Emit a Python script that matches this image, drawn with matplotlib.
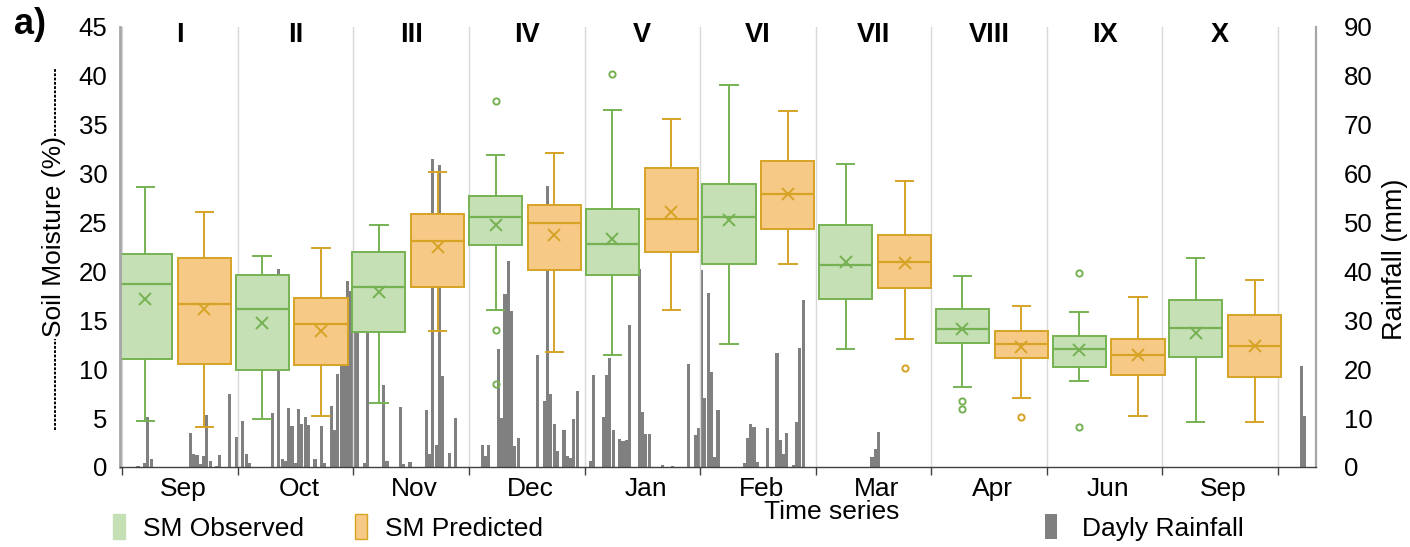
import numpy as np
import matplotlib.pyplot as plt
from matplotlib.patches import Patch

plt.rcParams['font.family'] = ['Liberation Sans', 'DejaVu Sans']

# section labels
sections = ['I', 'II', 'III', 'IV', 'V', 'VI', 'VII', 'VIII', 'IX', 'X']
months = ['Sep', 'Oct', 'Nov', 'Dec', 'Jan', 'Feb', 'Mar', 'Apr', 'Jun', 'Sep']

# soil moisture observed (%) - box statistics
obs_lo = [4.7, 4.9, 6.5, 16.1, 11.5, 12.6, 12.1, 8.2, 8.8, 4.6]
obs_q1 = [11.0, 9.9, 13.8, 22.7, 19.6, 20.8, 17.2, 12.7, 10.2, 11.2]
obs_med = [18.7, 16.2, 18.4, 25.6, 22.8, 25.6, 20.7, 14.1, 12.1, 14.2]
obs_q3 = [21.8, 19.6, 22.0, 27.7, 26.4, 28.9, 24.7, 16.2, 13.4, 17.1]
obs_hi = [28.6, 21.6, 24.7, 31.9, 36.5, 39.1, 31.0, 19.5, 15.9, 21.4]
obs_mean = [17.2, 14.7, 17.9, 24.7, 23.3, 25.3, 21.0, 14.1, 12.0, 13.7]
obs_out = [[], [], [], [37.4, 14.0, 8.5], [40.2], [], [], [6.7, 5.9], [19.8, 4.1], []]

# soil moisture predicted (%)
pred_lo = [4.1, 5.2, 13.9, 11.8, 16.1, 20.8, 13.1, 7.1, 5.2, 4.6]
pred_q1 = [10.5, 10.4, 18.4, 20.1, 22.0, 24.3, 18.3, 11.1, 9.4, 9.2]
pred_med = [16.7, 14.6, 23.1, 25.0, 25.4, 27.9, 21.0, 12.6, 11.5, 12.4]
pred_q3 = [21.4, 17.3, 25.9, 26.8, 30.6, 31.3, 23.7, 13.9, 13.1, 15.5]
pred_hi = [26.1, 22.4, 30.2, 32.1, 35.6, 36.4, 29.3, 16.5, 17.4, 19.1]
pred_mean = [16.2, 13.9, 22.5, 23.7, 26.1, 27.9, 20.9, 12.3, 11.5, 12.4]
pred_out = [[], [], [], [], [], [], [10.1], [5.1], [], []]

# daily rainfall (mm), only rainy days, day index from start of series (365 days)
rain_day = [5, 7, 8, 9, 21, 22, 23, 24, 25, 26, 27, 29, 30, 33,
            35, 37, 38, 39, 46, 48, 49, 50, 51, 52, 53, 54, 55, 56, 57, 59,
            61, 62, 64, 65, 66, 67, 68, 69, 70, 71, 72,
            74, 75, 80, 81, 85, 86, 88, 93, 94, 95, 96, 97, 98, 100, 102,
            110, 111, 112, 115, 116, 117, 118, 119, 120, 121, 127, 129, 130,
            131, 132, 133, 135, 136, 137, 138, 139,
            143, 144, 147, 148, 149, 150, 152, 153, 154, 155, 158, 159, 160,
            161, 165, 168, 173, 175, 176,
            177, 178, 179, 180, 181, 182, 190, 191, 192, 193, 194, 197, 200,
            201, 202, 203, 205, 206, 207, 208,
            229, 230, 231, 360, 361]
rain_mm = [0.3, 0.9, 10.3, 1.6, 7.0, 2.6, 2.4, 0.6, 2.2, 10.7, 1.2, 0.3, 2.4, 15.0,
           6.1, 9.4, 2.6, 0.9, 11.0, 40.5, 1.7, 1.2, 12.1, 8.4, 0.8, 11.9, 8.7, 10.2, 8.5, 1.7,
           8.4, 0.9, 12.5, 7.5, 19.0, 20.7, 24.0, 38.0, 36.0, 30.0, 28.5,
           0.9, 27.5, 16.7, 1.2, 12.2, 0.7, 1.1, 11.6, 2.6, 63.0, 4.6, 61.8, 18.7, 2.9, 10.1,
           4.4, 2.2, 4.4, 24.2, 10.1, 35.4, 42.2, 32.0, 4.3, 5.9, 23.0, 13.5, 57.5,
           15.0, 8.7, 3.3, 7.5, 2.2, 1.9, 9.9, 15.6,
           1.2, 18.8, 10.2, 18.9, 22.3, 7.6, 5.8, 5.3, 5.5, 29.0, 40.5, 11.2, 6.7,
           6.8, 0.5, 0.2, 21.1, 6.5, 8.0,
           40.3, 14.1, 35.6, 19.4, 2.0, 11.6, 0.9, 6.0, 8.8, 8.2, 1.0, 8.0, 23.3,
           5.6, 2.6, 7.0, 0.5, 9.2, 24.4, 34.1,
           2.1, 3.6, 7.1, 20.6, 10.5]
n_days = 365

green_fill, green_edge = '#c5e0b4', '#76b253'
orange_fill, orange_edge = '#f6ca86', '#d6a325'


def box_stats(lo, q1, med, q3, hi, mean, out):
    return [dict(whislo=a, q1=b, med=c, q3=d, whishi=e, mean=f, fliers=g)
            for a, b, c, d, e, f, g in zip(lo, q1, med, q3, hi, mean, out)]


def draw_boxes(ax, stats, pos, fill, edge):
    ax.bxp(stats, positions=pos, widths=0.46, patch_artist=True, showmeans=True,
           manage_ticks=False, capwidths=0.15,
           boxprops=dict(facecolor=fill, edgecolor=edge, linewidth=1.4),
           medianprops=dict(color=edge, linewidth=1.6),
           whiskerprops=dict(color=edge, linewidth=1.4),
           capprops=dict(color=edge, linewidth=1.4),
           meanprops=dict(marker='x', markeredgecolor=edge, markersize=9, markeredgewidth=1.4),
           flierprops=dict(marker='o', markerfacecolor='none', markeredgecolor=edge,
                           markersize=4.5, markeredgewidth=1.4))


fig = plt.figure(figsize=(14.1, 5.47), dpi=100)
ax = fig.add_axes([120 / 1410, 1 - 467 / 547, 1196 / 1410, 440 / 547])
ax2 = ax.twinx()
ax.set_zorder(ax2.get_zorder() + 1)
ax.patch.set_visible(False)

x0, x1 = -0.02, 10.33
ax.set_xlim(x0, x1)
ax.set_ylim(0, 45)
ax2.set_ylim(0, 90)

# rainfall bars on the right axis
day_w = (x1 - x0) / n_days
rain_x = x0 + (np.array(rain_day) + 0.5) * day_w
ax2.bar(rain_x, rain_mm, width=day_w * 0.95, color='#808080', linewidth=0)

# boxes
idx = np.arange(len(sections))
obs_pos = idx * 1.01 + 0.2
pred_pos = obs_pos + 0.51
draw_boxes(ax, box_stats(obs_lo, obs_q1, obs_med, obs_q3, obs_hi, obs_mean, obs_out),
           obs_pos, green_fill, green_edge)
draw_boxes(ax, box_stats(pred_lo, pred_q1, pred_med, pred_q3, pred_hi, pred_mean, pred_out),
           pred_pos, orange_fill, orange_edge)

# section numerals
for i, s in enumerate(sections):
    ax.text(i + 0.5, 44.2, s, ha='center', va='center', fontsize=19.5, fontweight='bold')

# x axis: month labels, section boundaries as grid
ax.set_xticks(idx + 0.53)
ax.set_xticklabels(months, fontsize=19)
ax.set_xticks(np.arange(0, 11), minor=True)
ax.tick_params(axis='x', which='major', length=0, pad=7)
ax.tick_params(axis='x', which='minor', length=6, color='#404040', width=1)
ax.grid(True, which='minor', axis='x', color='#d9d9d9', linewidth=1)

ax.set_yticks(range(0, 46, 5))
ax.tick_params(axis='y', length=0, labelsize=18.5, pad=9)
ax2.set_yticks(range(0, 91, 10))
ax2.tick_params(axis='y', length=0, labelsize=18.5, pad=20)

for sp in ['top', 'right']:
    ax.spines[sp].set_visible(False)
for sp in ['top', 'left', 'bottom']:
    ax2.spines[sp].set_visible(False)
ax.spines['left'].set_color('#a6a6a6')
ax.spines['left'].set_linewidth(2)
ax.spines['bottom'].set_color('#404040')
ax.spines['bottom'].set_linewidth(1)
ax2.spines['right'].set_color('#a6a6a6')
ax2.spines['right'].set_linewidth(1.6)

# left label with dashed leaders above and below
ax.set_ylabel('Soil Moisture (%)', fontsize=19)
ax.yaxis.set_label_coords(-0.0455, 0.523)
for lo, hi in [(0.752, 0.907), (0.084, 0.29)]:
    ax.plot([-0.0543, -0.0543], [lo, hi], transform=ax.transAxes, clip_on=False,
            color='black', linewidth=1.4, linestyle=(0, (1.4, 0.8)))
ax2.set_ylabel('Rainfall (mm)', fontsize=19.5)
ax2.yaxis.set_label_coords(1.055, 0.472)

fig.text(14 / 1410, 1 - 24 / 547, 'a)', fontsize=26, fontweight='bold', va='center')
fig.text(832 / 1410, 1 - 512 / 547, 'Time series', fontsize=19, ha='center', va='center')

sm_handles = [Patch(facecolor=green_fill, edgecolor=green_fill, label='SM Observed'),
              Patch(facecolor=orange_fill, edgecolor=orange_edge, label='SM Predicted')]
fig.legend(handles=sm_handles, loc='upper left', bbox_to_anchor=(113 / 1410, 1 - 514 / 547),
           ncol=2, frameon=False, fontsize=19, borderpad=0, borderaxespad=0,
           handlelength=0.45, handleheight=1.1, handletextpad=0.68, columnspacing=1.95)
fig.legend(handles=[Patch(facecolor='#808080', label='Dayly Rainfall')], loc='upper left',
           bbox_to_anchor=(1045 / 1410, 1 - 514 / 547), frameon=False, fontsize=19,
           borderpad=0, borderaxespad=0, handlelength=0.45, handleheight=1.1,
           handletextpad=0.95)

fig.savefig('out.png', dpi=100)
